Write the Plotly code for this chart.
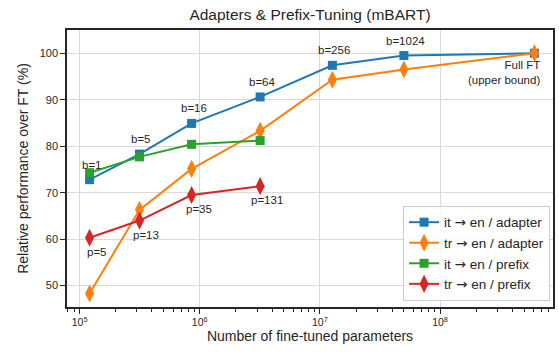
import math
import plotly.graph_objects as go

# data
params_b = [1.21e5, 3.15e5, 8.55e5, 3.18e6, 1.27e7, 5.0e7]
full_ft_params = 6.1e8
params_p = [1.21e5, 3.15e5, 8.55e5, 3.18e6]

it_adapter = [72.8, 78.3, 84.9, 90.6, 97.4, 99.5]
tr_adapter = [48.3, 66.3, 75.1, 83.3, 94.3, 96.5]
it_prefix = [74.3, 77.7, 80.4, 81.2]
tr_prefix = [60.3, 64.0, 69.5, 71.4]
full_ft = 100.0

b_labels = ["b=1", "b=5", "b=16", "b=64", "b=256", "b=1024"]
p_labels = ["p=5", "p=13", "p=35", "p=131"]

x_tick_vals = [1e5, 1e6, 1e7, 1e8]
x_tick_text = ["10<sup>5</sup>", "10<sup>6</sup>", "10<sup>7</sup>", "10<sup>8</sup>"]
y_tick_vals = [50, 60, 70, 80, 90, 100]

ARROW = "<span style='font-family:DejaVu Sans'>→</span>"
names = [f"it {ARROW} en / adapter", f"tr {ARROW} en / adapter",
         f"it {ARROW} en / prefix", f"tr {ARROW} en / prefix"]
colors = ["#1f77b4", "#ff7f0e", "#2ca02c", "#d62728"]

FONT = "Liberation Sans, Arial, sans-serif"
TXT = "#262626"

fig = go.Figure()
series = [
    (params_b + [full_ft_params], it_adapter + [full_ft], "square", 9),
    (params_b + [full_ft_params], tr_adapter + [full_ft], "diamond-tall", 13),
    (params_p, it_prefix, "square", 9),
    (params_p, tr_prefix, "diamond-tall", 13),
]
for (xs, ys, sym, sz), name, c in zip(series, names, colors):
    fig.add_trace(go.Scatter(
        x=xs, y=ys, mode="lines+markers", name=name,
        line=dict(color=c, width=2),
        marker=dict(symbol=sym, size=sz, color=c, line=dict(width=0)),
    ))

ann_font = dict(size=11.5, color=TXT, family=FONT)
annotations = []
for x, y, t in zip(params_b, it_adapter, b_labels):
    annotations.append(dict(x=math.log10(x), y=y, xref="x", yref="y", text=t, showarrow=False,
                            yshift=15, xshift=2, font=ann_font))
for x, y, t in zip(params_p, tr_prefix, p_labels):
    annotations.append(dict(x=math.log10(x), y=y, xref="x", yref="y", text=t, showarrow=False,
                            yshift=-14, xshift=7, font=ann_font))
annotations.append(dict(x=math.log10(full_ft_params), y=full_ft, xref="x", yref="y",
                        text="Full FT<br>(upper bound)", showarrow=False, align="right",
                        xanchor="right", yanchor="top", xshift=8, yshift=-4,
                        font=ann_font))

minor_vals = [m * 10 ** e for e in range(4, 9) for m in range(2, 10)]

fig.update_layout(
    width=559, height=358,
    margin=dict(l=67, r=4, t=30, b=51),
    paper_bgcolor="white", plot_bgcolor="white",
    font=dict(family=FONT, color=TXT, size=11),
    title=dict(text="Adapters & Prefix-Tuning (mBART)", x=0.5, xref="paper", xanchor="center",
               y=0.958, yref="container", yanchor="middle",
               font=dict(size=15.5, color=TXT, family=FONT)),
    annotations=annotations,
    legend=dict(x=0.994, y=0.022, xanchor="right", yanchor="bottom",
                bgcolor="rgba(255,255,255,0.85)", bordercolor="#cccccc", borderwidth=1,
                font=dict(size=13.5, color=TXT, family=FONT), itemwidth=30),
    showlegend=True,
)
fig.update_xaxes(
    type="log", range=[4.895, 8.94],
    tickmode="array", tickvals=x_tick_vals, ticktext=x_tick_text,
    showgrid=True, gridcolor="#d9d9d9", gridwidth=1,
    showline=True, linecolor="#262626", linewidth=1.5, mirror=True,
    ticks="outside", ticklen=5, tickcolor="#262626", tickwidth=1,
    tickfont=dict(size=10.5, color=TXT, family=FONT),
    minor=dict(ticks="outside", ticklen=3, tickcolor="#262626", tickwidth=1,
               tickmode="array", tickvals=minor_vals, showgrid=False),
    title=dict(text="Number of fine-tuned parameters", font=dict(size=14, color=TXT, family=FONT), standoff=4),
    zeroline=False,
)
fig.update_yaxes(
    range=[45.4, 105.0], tickmode="array", tickvals=y_tick_vals,
    showgrid=True, gridcolor="#d9d9d9", gridwidth=1,
    showline=True, linecolor="#262626", linewidth=1.5, mirror=True,
    ticks="outside", ticklen=5, tickcolor="#262626", tickwidth=1,
    tickfont=dict(size=11, color=TXT, family=FONT),
    title=dict(text="Relative performance over FT (%)", font=dict(size=14, color=TXT, family=FONT), standoff=8),
    zeroline=False,
)

fig.write_html("out.html")
